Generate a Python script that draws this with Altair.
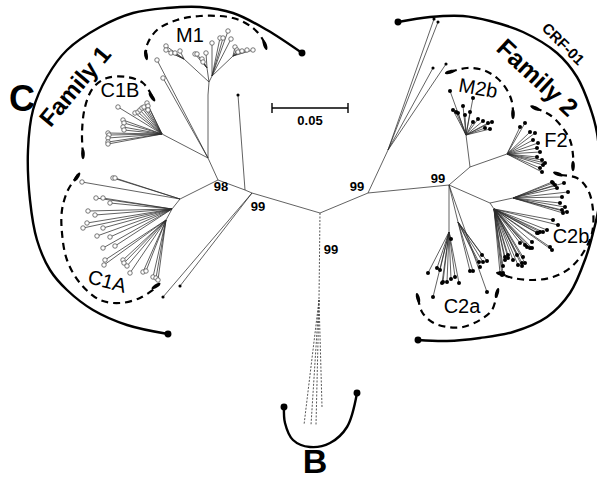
import altair as alt
import pandas as pd

W, H = 597, 480

# ---- internal nodes of the unrooted tree (layout units; 0.05 subst./site = 76.7 units)
node_name = ["root", "L99", "Lside", "L98", "F1up", "M1base", "M1a", "M1left", "M1mid",
             "M1right", "M1far", "C1B", "C1Aa", "C1Ab", "C1Ac",
             "R99a", "Rlong", "R99b", "F2stem", "M2b", "F2", "C2b", "C2bup", "C2blow",
             "C2a", "C2a2", "Bnode"]
node_x = [320, 252, 245, 218, 208, 208, 209, 184, 207, 212, 233, 162, 180, 172, 166,
          368, 388, 449, 470, 466, 507, 490, 513, 494, 449, 458, 319]
node_y = [213, 193, 190, 180, 158, 95, 82, 59, 68, 76, 56, 134, 199, 209, 220,
          193, 150, 185, 167, 135, 154, 203, 198, 209, 232, 222, 300]

edge_from = ["root", "L99", "Lside", "L98", "F1up", "M1base", "M1a", "M1a", "M1a", "M1right",
             "F1up", "L98", "C1Aa", "C1Ab", "root", "R99a", "R99a", "R99b", "F2stem",
             "F2stem", "R99b", "C2b", "C2b", "R99b", "R99b"]
edge_to = ["L99", "Lside", "L98", "F1up", "M1base", "M1a", "M1left", "M1mid", "M1right", "M1far",
           "C1B", "C1Aa", "C1Ab", "C1Ac", "R99a", "Rlong", "R99b", "F2stem", "M2b",
           "F2", "C2b", "C2bup", "C2blow", "C2a", "C2a2"]

# ---- terminal taxa, grouped by the node they hang from
tips_L99 = [(163, 297), (180, 286)]
tips_Lside = [(238, 95)]
tips_F1up = [(157, 60), (163, 78)]
tips_M1left = [(166, 46), (166, 50), (171, 53), (175, 53), (180, 51)]
tips_M1mid = [(195, 54), (197, 54), (202, 59), (203, 62), (206, 53)]
tips_M1right = [(212, 43), (220, 38), (223, 38), (228, 31), (231, 39)]
tips_M1far = [(235, 47), (237, 50), (238, 52), (242, 51), (247, 50), (253, 50)]
tips_C1B = [(118, 107), (135, 113), (138, 112), (140, 110), (142, 108), (144, 107), (147, 103),
            (148, 106), (148, 110), (123, 120), (124, 123), (123, 127), (124, 130), (108, 133),
            (109, 135), (108, 138), (108, 142), (108, 144)]
tips_C1Aa = [(82, 182), (113, 178), (115, 178)]
tips_C1Ab = [(96, 198), (103, 198), (110, 203), (88, 211), (95, 215), (87, 223), (83, 228),
             (103, 228), (97, 236), (110, 237), (103, 248), (115, 246)]
tips_C1Ac = [(105, 260), (104, 265), (123, 260), (124, 263), (127, 266), (130, 273), (143, 272),
             (146, 271), (153, 277), (156, 278), (158, 280)]
tips_Rlong = [(434, 19), (438, 22), (433, 68), (446, 64)]
tips_M2b = [(450, 91), (473, 98), (463, 106), (453, 110), (456, 112), (458, 113), (465, 115),
            (470, 112), (473, 122), (478, 119), (483, 121), (488, 123), (492, 122), (490, 129),
            (485, 128)]
tips_F2 = [(520, 127), (525, 123), (530, 132), (535, 133), (533, 140), (538, 143), (537, 148),
           (540, 152), (537, 157), (542, 160), (543, 165), (540, 168), (542, 172), (545, 163)]
tips_C2bup = [(552, 182), (553, 183), (555, 185), (557, 188), (564, 183), (568, 192), (562, 197),
              (560, 203), (565, 207), (567, 212), (563, 213), (562, 210)]
tips_C2blow = [(553, 220), (558, 225), (547, 230), (543, 232), (538, 233), (550, 247), (552, 250),
               (532, 242), (530, 248), (525, 245), (520, 243), (523, 257), (517, 255), (513, 260),
               (508, 255), (505, 260), (503, 266), (518, 265), (522, 266), (505, 257), (500, 273),
               (502, 275), (508, 258), (522, 263), (525, 263), (527, 247), (532, 248), (537, 233),
               (540, 232), (503, 273)]
tips_C2a = [(428, 273), (433, 297), (437, 268), (440, 270), (442, 283), (443, 282), (447, 282),
            (451, 279), (455, 277), (459, 283), (451, 239)]
tips_C2a2 = [(470, 271), (473, 271), (480, 267), (482, 255), (487, 261), (483, 262), (479, 262)]
tips_R99b = [(487, 292)]
tips_B = [(304, 425), (311, 425), (316, 425), (322, 407)]

# hub, tip list, marker kind
tip_groups = [
    ("L99", tips_L99, "dot"), ("Lside", tips_Lside, "dot"), ("F1up", tips_F1up, "open"),
    ("M1left", tips_M1left, "open"), ("M1mid", tips_M1mid, "open"),
    ("M1right", tips_M1right, "open"), ("M1far", tips_M1far, "open"),
    ("C1B", tips_C1B, "open"), ("C1Aa", tips_C1Aa, "open"), ("C1Ab", tips_C1Ab, "open"),
    ("C1Ac", tips_C1Ac, "open"), ("Rlong", tips_Rlong, "dot"), ("M2b", tips_M2b, "fill"),
    ("F2", tips_F2, "fill"), ("C2bup", tips_C2bup, "fill"), ("C2blow", tips_C2blow, "fill"),
    ("C2a", tips_C2a, "fill"), ("C2a2", tips_C2a2, "fill"), ("R99b", tips_R99b, "fill"),
]

# ---- clade outlines, family arcs and their end dots
fam1_arc = [(302, 53), (267, 30), (233, 13), (200, 7), (167, 8), (133, 13), (100, 27), (67, 50),
            (47, 77), (33, 110), (28, 150), (30, 200), (37, 240), (50, 270), (67, 290), (93, 310),
            (127, 325), (168, 334)]
fam2_arc = [(398, 22), (430, 17), (463, 16), (490, 21), (523, 32), (557, 53), (577, 77),
            (590, 107), (597, 133), (600, 170), (599, 205), (593, 233), (586, 257), (570, 293),
            (547, 317), (513, 332), (480, 338), (447, 341), (418, 340)]
b_arc = [(284, 407), (285, 423), (293, 440), (310, 447), (330, 443), (347, 427), (357, 393)]
arc_ends = [(302, 53), (168, 334), (398, 22), (418, 340), (284, 407), (357, 393)]

ring_M1 = [(146, 57), (147, 45), (157, 30), (177, 20), (200, 16), (233, 18), (253, 28), (263, 40), (265, 47)]
ring_C1B = [(152, 96), (143, 83), (127, 77), (107, 78), (93, 88), (85, 107), (82, 133), (83, 155)]
ring_C1A = [(78, 175), (68, 190), (62, 210), (62, 233), (67, 260), (80, 283), (100, 300), (120, 303),
            (140, 298), (157, 287)]
ring_M2b = [(450, 72), (467, 68), (483, 70), (497, 78), (507, 90), (512, 102), (513, 113)]
ring_F2 = [(535, 108), (550, 115), (562, 127), (570, 140), (573, 155), (573, 167)]
ring_C2b = [(560, 175), (577, 178), (588, 190), (593, 210), (592, 233), (583, 253), (570, 268),
            (553, 277), (533, 280), (513, 278), (500, 274)]
ring_C2a = [(418, 298), (422, 312), (432, 322), (447, 327), (463, 327), (480, 320), (492, 310), (497, 293)]

# thick end strokes of the dashed outlines: x, y, direction (deg)
ring_caps = [(146, 55, 80), (265, 45, 70), (152, 97, 55), (83, 154, 90), (77, 177, 124),
             (156, 286, 327), (450, 72, 347), (513, 114, 90), (535, 108, 25), (573, 166, 90),
             (558, 174, 20), (501, 274, 17), (418, 298, 75), (497, 293, 106)]

# scale bar (0.05 substitutions per site)
bar_x = [272, 348]
bar_y = 108

# labels: text, x, y, angle, font size, bold
labels = [
    ("C", 22, 100, 0, 36, True), ("Family 1", 76, 87, 310, 24, True),
    ("Family 2", 537, 78, 43, 25, True), ("CRF-01", 563, 44, 45, 15, True),
    ("B", 315, 463, 0, 34, True), ("0.05", 310, 121, 0, 13, True),
    ("98", 221, 187, 0, 13, True), ("99", 258, 207, 0, 13, True), ("99", 331, 250, 0, 13, True),
    ("99", 357, 187, 0, 13, True), ("99", 438, 179, 0, 13, True),
    ("M1", 190, 36, 0, 20, False), ("C1B", 120, 91, 0, 20, False), ("C1A", 107, 282, 15, 20, False),
    ("M2b", 478, 89, 10, 20, False), ("F2", 556, 141, 0, 20, False), ("C2b", 571, 237, 0, 20, False),
    ("C2a", 462, 307, 0, 20, False),
]

# ---------------------------------------------------------------- tables
pos = dict(zip(node_name, zip(node_x, node_y)))

edge_rows = [dict(x=pos[a][0], y=pos[a][1], x2=pos[b][0], y2=pos[b][1]) for a, b in zip(edge_from, edge_to)]
tip_rows = []
for hub, pts, kind in tip_groups:
    for tx, ty in pts:
        edge_rows.append(dict(x=pos[hub][0], y=pos[hub][1], x2=tx, y2=ty))
        tip_rows.append(dict(x=tx, y=ty, kind=kind))
edges = pd.DataFrame(edge_rows)
tips = pd.DataFrame(tip_rows)

b_rows = [dict(x=pos["root"][0], y=pos["root"][1], x2=pos["Bnode"][0], y2=pos["Bnode"][1])]
b_rows += [dict(x=pos["Bnode"][0], y=pos["Bnode"][1], x2=tx, y2=ty) for tx, ty in tips_B]
b_edges = pd.DataFrame(b_rows)


def path_table(paths):
    rows = []
    for name, pts in paths:
        for i, (px, py) in enumerate(pts):
            rows.append(dict(path=name, i=i, x=px, y=py))
    return pd.DataFrame(rows)


arcs = path_table([("fam1", fam1_arc), ("fam2", fam2_arc), ("B", b_arc)])
rings = path_table([("M1", ring_M1), ("C1B", ring_C1B), ("C1A", ring_C1A), ("M2b", ring_M2b),
                    ("F2", ring_F2), ("C2b", ring_C2b), ("C2a", ring_C2a)])
ends = pd.DataFrame(arc_ends, columns=["x", "y"])
caps = pd.DataFrame(ring_caps, columns=["x", "y", "angle"])
bar = pd.DataFrame([dict(x=bar_x[0], y=bar_y, x2=bar_x[1], y2=bar_y),
                    dict(x=bar_x[0], y=bar_y - 5, x2=bar_x[0], y2=bar_y + 5),
                    dict(x=bar_x[1], y=bar_y - 5, x2=bar_x[1], y2=bar_y + 5)])
text = pd.DataFrame(labels, columns=["label", "x", "y", "angle", "size", "bold"])

# ---------------------------------------------------------------- encodings
xs = alt.Scale(domain=[0, W], nice=False, zero=False)
ys = alt.Scale(domain=[0, H], nice=False, zero=False, reverse=True)
X = alt.X("x:Q", scale=xs, axis=None)
Y = alt.Y("y:Q", scale=ys, axis=None)
seg = dict(x=X, y=Y, x2="x2:Q", y2="y2:Q")

branch_layer = alt.Chart(edges).mark_rule(color="#2e2e2e", strokeWidth=0.75).encode(**seg)
b_layer = alt.Chart(b_edges).mark_rule(color="#444", strokeWidth=0.9, strokeDash=[2, 1.5]).encode(**seg)

ring_layer = alt.Chart(rings).mark_line(
    color="black", strokeWidth=2.2, strokeDash=[7, 5], interpolate="catmull-rom"
).encode(x=X, y=Y, order="i:Q", detail="path:N")
arc_layer = alt.Chart(arcs).mark_line(
    color="black", strokeWidth=2.4, interpolate="catmull-rom"
).encode(x=X, y=Y, order="i:Q", detail="path:N")

open_tips = alt.Chart(tips).transform_filter(alt.datum.kind == "open").mark_point(
    shape="circle", filled=True, fill="white", stroke="#555", strokeWidth=0.8, size=20, opacity=1
).encode(x=X, y=Y)
fill_tips = alt.Chart(tips).transform_filter(alt.datum.kind == "fill").mark_point(
    shape="circle", filled=True, color="black", size=16, opacity=1
).encode(x=X, y=Y)
dot_tips = alt.Chart(tips).transform_filter(alt.datum.kind == "dot").mark_point(
    shape="circle", filled=True, color="black", size=10, opacity=1
).encode(x=X, y=Y)

end_layer = alt.Chart(ends).mark_point(
    shape="circle", filled=True, color="black", size=48, opacity=1
).encode(x=X, y=Y)
cap_layer = alt.Chart(caps).mark_point(
    shape="M -1 0 A 1 0.35 0 1 1 1 0 A 1 0.35 0 1 1 -1 0 Z",
    filled=True, color="black", size=110, opacity=1
).encode(x=X, y=Y, angle=alt.Angle("angle:Q", scale=None))

bar_layer = alt.Chart(bar).mark_rule(color="black", strokeWidth=1.4).encode(**seg)

text_enc = dict(x=X, y=Y, text="label:N",
                angle=alt.Angle("angle:Q", scale=None), size=alt.Size("size:Q", scale=None))
bold_text = alt.Chart(text).transform_filter(alt.datum.bold).mark_text(
    font="Liberation Sans", fontWeight="bold", color="black", baseline="middle", align="center"
).encode(**text_enc)
plain_text = alt.Chart(text).transform_filter(~alt.datum.bold).mark_text(
    font="Liberation Sans", color="black", baseline="middle", align="center"
).encode(**text_enc)

chart = alt.layer(
    branch_layer, b_layer, ring_layer, arc_layer, open_tips, fill_tips, dot_tips,
    end_layer, cap_layer, bar_layer, bold_text, plain_text
).properties(
    width=W, height=H, padding=0, autosize=alt.AutoSizeParams(type="none"), background="white"
).configure_view(stroke=None)

chart.save("out.html", embed_options={"renderer": "svg", "actions": False})
